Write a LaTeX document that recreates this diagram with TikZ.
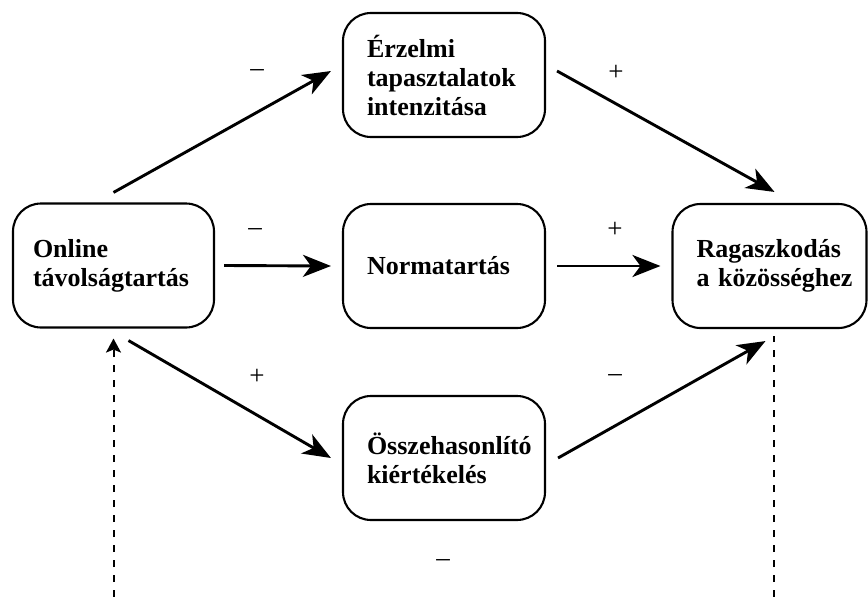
\documentclass[tikz,border=0pt]{standalone}
\usepackage{fontspec}
\setmainfont{Liberation Serif}
\usepackage{tikz}
\usetikzlibrary{arrows.meta,positioning,calc}
\hyphenpenalty=10000
\hbadness=10000
\hfuzz=40pt

\begin{document}
\begin{tikzpicture}[x=1pt,y=-1pt,
        box/.style={draw, line width=2.1pt, rounded corners=28pt, minimum height=124pt,
            inner xsep=24pt, text width=154pt, align=left,
            font=\fontsize{26}{29}\selectfont\bfseries},
        link/.style={line width=2.9pt, -{Stealth[length=28pt,width=22pt,inset=8pt]}},
        back/.style={line width=2pt, dash pattern=on 7pt off 8pt},
        sign/.style={font=\fontsize{27}{27}\selectfont}]
        \useasboundingbox (0,0) rectangle (868,597);
        % boxes
        \node[box, inner xsep=20pt, text width=161pt] (online) at (113.5,265.5) {Online\\távolságtartás};
        \node[box] (erz) at (444,75) {Érzelmi\\tapasztalatok\\intenzitása};
        \node[box] (norma) at (444,266) {Normatartás};
        \node[box] (ossz) at (444,458) {Összehasonlító\\kiértékelés};
        \node[box, text width=146pt] (rag) at (769.5,266) {Ragaszkodás\\a~közösséghez};
        % paths
        \draw[link] ([yshift=10pt]online.north) -- ([xshift=-11pt,yshift=4pt]erz.west);
        \draw[link] ([xshift=11pt,yshift=4pt]erz.east) -- ([xshift=5pt,yshift=11pt]rag.north);
        \draw[link] ([xshift=9pt]online.east) -- ([xshift=-11pt]norma.west);
        \draw[link] ([xshift=11pt]norma.east) -- ([xshift=-11pt]rag.west);
        \draw[link] ([xshift=15pt,yshift=-12pt]online.south) -- ([xshift=-11pt]ossz.west);
        \draw[link] ([xshift=12pt]ossz.east) -- ([xshift=-4pt,yshift=-12pt]rag.south);
        % feedback lines
        \coordinate (lbot) at (113.5,597);
        \coordinate (rbot) at (774,597);
        \draw[back, -{Stealth[length=14pt,width=15pt,inset=3pt]}, shorten >=10pt] (lbot) -- (lbot |- online.south);
        \draw[back, shorten >=7pt] (rbot) -- (rbot |- rag.south);
        % signs
        \node[sign] (s1) at (257,73) {–};
        \node[sign] (s2) at (616,73) {+};
        \node[sign] (s3) at (255,232) {–};
        \node[sign] (s4) at (615,230) {+};
        \node[sign] (s5) at (257,377) {+};
        \node[sign] (s6) at (615,378) {–};
        \node[sign] (s7) at (443,563) {–};
    \end{tikzpicture}
\end{document}
